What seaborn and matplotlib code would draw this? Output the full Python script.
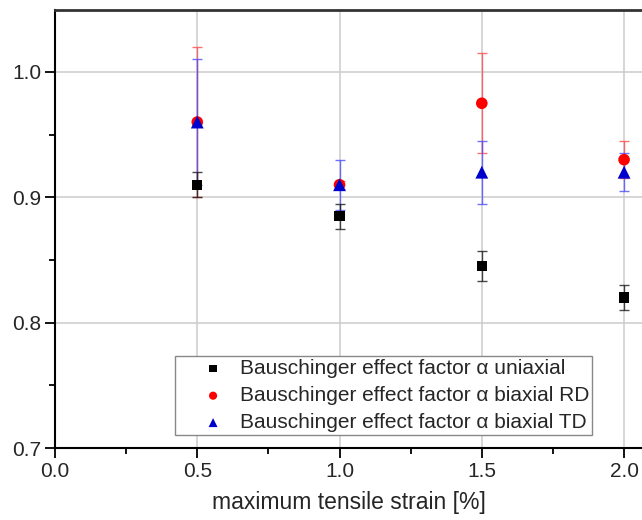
import matplotlib
matplotlib.use("Agg")
import matplotlib.pyplot as plt
import seaborn as sns
import pandas as pd
from matplotlib.ticker import MultipleLocator

strain = [0.5, 1.0, 1.5, 2.0]
uni = [0.91, 0.885, 0.845, 0.82]
uni_err = [0.01, 0.01, 0.012, 0.01]
rd = [0.96, 0.91, 0.975, 0.93]
rd_err = [0.06, 0.003, 0.04, 0.015]
td = [0.96, 0.91, 0.92, 0.92]
td_err = [0.05, 0.02, 0.025, 0.015]

labels = ["Bauschinger effect factor α uniaxial",
          "Bauschinger effect factor α biaxial RD",
          "Bauschinger effect factor α biaxial TD"]

sns.set_theme(style="white")
plt.rcParams['font.family'] = ['Liberation Sans', 'DejaVu Sans']

fig = plt.figure(figsize=(6.42, 5.20), dpi=100)
ax = fig.add_axes([55/642, 72/520, 1 - 55/642, 438/520])

ax.grid(True, color="#cccccc", linewidth=1.1, zorder=0)
ax.set_axisbelow(True)

series = [
    (rd, rd_err, labels[1], "o", "#ff0000", (1, 0.3, 0.3, 0.8), 70),
    (td, td_err, labels[2], "^", "#0000cc", (0.3, 0.3, 1, 0.8), 85),
    (uni, uni_err, labels[0], "s", "#000000", (0.1, 0.1, 0.1, 0.8), 55),
]
for i, (vals, errs, lab, m, c, ec, sz) in enumerate(series):
    ax.errorbar(strain, vals, yerr=errs, fmt="none", ecolor=ec,
                elinewidth=1.0, capsize=3.6, capthick=1.0, zorder=2 + i)
    df = pd.DataFrame({"x": strain, "y": vals})
    sns.scatterplot(data=df, x="x", y="y", marker=m, color=c, s=sz,
                    edgecolor="none", linewidth=0, ax=ax, label=lab,
                    zorder=5 + i)

ax.set_xlim(0, 2.063)
ax.set_ylim(0.7, 1.0494)
ax.xaxis.set_major_locator(MultipleLocator(0.5))
ax.xaxis.set_minor_locator(MultipleLocator(0.25))
ax.yaxis.set_major_locator(MultipleLocator(0.1))
ax.yaxis.set_minor_locator(MultipleLocator(0.05))
ax.tick_params(axis="both", which="major", direction="out", length=7,
               width=1.3, color="black", labelsize=15, pad=3,
               bottom=True, left=True, top=False, right=False)
ax.tick_params(axis="both", which="minor", direction="out", length=4,
               width=1.3, color="black", bottom=True, left=True,
               top=False, right=False)
ax.grid(False, which="minor")
ax.set_xlabel("maximum tensile strain [%]", fontsize=16.5, labelpad=7)
ax.set_ylabel("")

for s in ["left", "bottom"]:
    ax.spines[s].set_color("black")
    ax.spines[s].set_linewidth(1.5)
ax.spines["top"].set_color("#333333")
ax.spines["top"].set_linewidth(2)
ax.spines["right"].set_visible(False)

h, l = ax.get_legend_handles_labels()
order = [l.index(x) for x in labels]
leg = ax.legend([h[i] for i in order], [l[i] for i in order],
                loc="lower left", bbox_to_anchor=(175/642, 85/520),
                bbox_transform=fig.transFigure, fontsize=15,
                frameon=True, fancybox=False, edgecolor="#888888",
                framealpha=1, handlelength=3.375, handletextpad=-0.39,
                borderpad=0.14, labelspacing=0.38, markerscale=0.7,
                borderaxespad=0)
leg.get_frame().set_linewidth(1.0)

fig.savefig("out.png", dpi=100)
